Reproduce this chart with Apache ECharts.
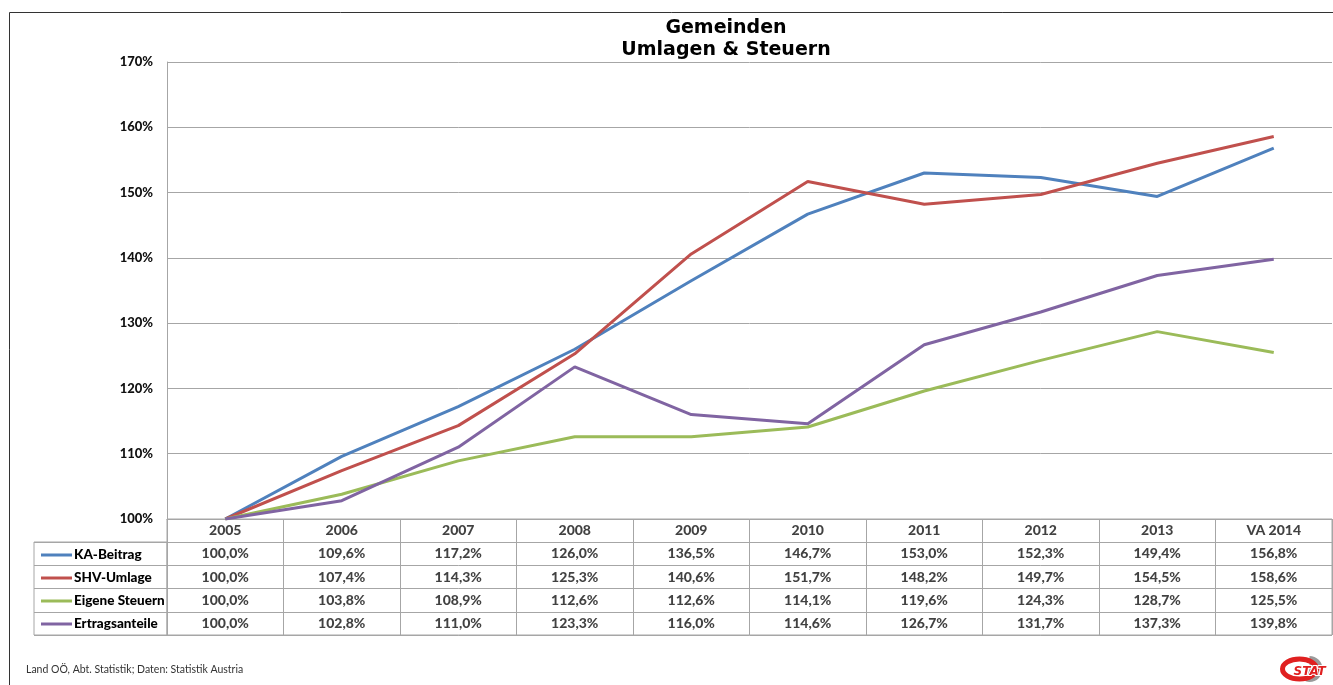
<!DOCTYPE html>
<html><head><meta charset="utf-8">
<script src="https://cdn.jsdelivr.net/npm/echarts@6/dist/echarts.min.js"></script>
<style>html,body{margin:0;padding:0;background:#fff}#c{width:1333px;height:685px}</style>
</head><body><div id="c"></div>
<script>
const categories = ['2005','2006','2007','2008','2009','2010','2011','2012','2013','VA 2014'];
const seriesNames = ['KA-Beitrag','SHV-Umlage','Eigene Steuern','Ertragsanteile'];
const kaBeitrag = [100.0,109.6,117.2,126.0,136.5,146.7,153.0,152.3,149.4,156.8];
const shvUmlage = [100.0,107.4,114.3,125.3,140.6,151.7,148.2,149.7,154.5,158.6];
const eigeneSteuern = [100.0,103.8,108.9,112.6,112.6,114.1,119.6,124.3,128.7,125.5];
const ertragsanteile = [100.0,102.8,111.0,123.3,116.0,114.6,126.7,131.7,137.3,139.8];
const yMin = 100, yMax = 170, yStep = 10;
const colors = ['#4F81BD','#C0504D','#9BBB59','#8064A2'];
const titleLines = ['Gemeinden','Umlagen & Steuern'];
const footer = 'Land OÖ, Abt. Statistik; Daten: Statistik Austria';

const allSeries = [kaBeitrag, shvUmlage, eigeneSteuern, ertragsanteile];
const fmt = v => v.toFixed(1).replace('.', ',') + '%';
const tableRows = ['header'].concat(seriesNames);
const cellData = [];
categories.forEach((c, i) => {
  cellData.push({ value: [i, 0], label: { formatter: c } });
  allSeries.forEach((s, r) => cellData.push({ value: [i, r + 1], label: { formatter: fmt(s[i]) } }));
});
const F = 'Lato, "Open Sans", sans-serif';
const lineC = '#A6A6A6';

const chart = echarts.init(document.getElementById('c'));
chart.setOption({
  animation: false,
  backgroundColor: '#fff',
  title: {
    text: titleLines.join('\n'), left: 726, top: 17, padding: 0, textAlign: 'center',
    textStyle: { fontFamily: 'DejaVu Sans', fontWeight: 'bold', fontSize: 19, lineHeight: 22, color: '#000' }
  },
  legend: {
    data: seriesNames, orient: 'vertical', left: 36, top: 542, itemGap: 7,
    itemWidth: 31, itemHeight: 3, icon: 'rect', selectedMode: false,
    textStyle: { fontFamily: F, fontWeight: 900, fontSize: 13.5, lineHeight: 16, color: '#000', padding: [0, 0, 0, -3] }
  },
  grid: [
    { left: 167, right: 1, top: 62, bottom: 166 },
    { left: 167, right: 1, top: 519, height: 116, show: true, borderColor: lineC, borderWidth: 1 },
    { left: 34, width: 133, top: 542, height: 93, show: true, borderColor: lineC, borderWidth: 1 }
  ],
  xAxis: [
    { type: 'category', gridIndex: 0, data: categories, boundaryGap: true,
      axisLine: { lineStyle: { color: lineC } }, axisTick: { show: false }, axisLabel: { show: false } },
    { type: 'category', gridIndex: 1, data: categories, boundaryGap: true,
      axisLine: { show: false }, axisTick: { show: false }, axisLabel: { show: false },
      splitLine: { show: true, interval: 0, lineStyle: { color: lineC } } },
    { type: 'category', gridIndex: 2, data: ['x'], show: false }
  ],
  yAxis: [
    { type: 'value', gridIndex: 0, min: yMin, max: yMax, interval: yStep,
      axisLine: { show: true, lineStyle: { color: lineC } }, axisTick: { show: false },
      axisLabel: { formatter: '{value}%', margin: 14, fontFamily: F, fontWeight: 900, fontSize: 13, color: '#111' },
      splitLine: { lineStyle: { color: lineC } } },
    { type: 'category', gridIndex: 1, data: tableRows, inverse: true,
      axisLine: { show: false }, axisTick: { show: false }, axisLabel: { show: false },
      splitLine: { show: true, interval: 0, lineStyle: { color: lineC } } },
    { type: 'category', gridIndex: 2, data: seriesNames, inverse: true,
      axisLine: { show: false }, axisTick: { show: false }, axisLabel: { show: false },
      splitLine: { show: true, interval: 0, lineStyle: { color: lineC } } }
  ],
  series: seriesNames.map((n, i) => ({
    name: n, type: 'line', xAxisIndex: 0, yAxisIndex: 0, data: allSeries[i],
    symbol: 'none', color: colors[i], lineStyle: { width: 3, color: colors[i] }
  })).concat([{
    type: 'scatter', xAxisIndex: 1, yAxisIndex: 1, data: cellData, symbolSize: 1,
    itemStyle: { color: 'rgba(0,0,0,0)' }, silent: true,
    label: { show: true, position: 'inside', fontFamily: F, fontWeight: 900, fontSize: 14, color: '#111' }
  }]),
  graphic: [
    { type: 'rect', shape: { x: 9.5, y: 12.5, width: 1400, height: 720 }, style: { fill: 'none', stroke: '#333', lineWidth: 1 }, silent: true },
    { type: 'text', left: 26, top: 664, style: { text: footer, font: '10.5px ' + F, fill: '#333' } },
    { type: 'group', left: 1280, top: 656, children: [
      { type: 'sector', shape: { cx: 30, cy: 14, r: 13, startAngle: -Math.PI * 0.5, endAngle: Math.PI * 0.6 }, style: { fill: '#9a9a9a' } },
      { type: 'ellipse', shape: { cx: 20, cy: 14, rx: 17, ry: 10 }, style: { fill: 'none', stroke: '#E02020', lineWidth: 5 } },
      { type: 'text', x: 14, y: 11, style: { text: 'STAT', font: 'italic bold 12px "DejaVu Sans"', fill: '#E02020', stroke: '#fff', lineWidth: 2 } }
    ] }
  ]
});
</script></body></html>
